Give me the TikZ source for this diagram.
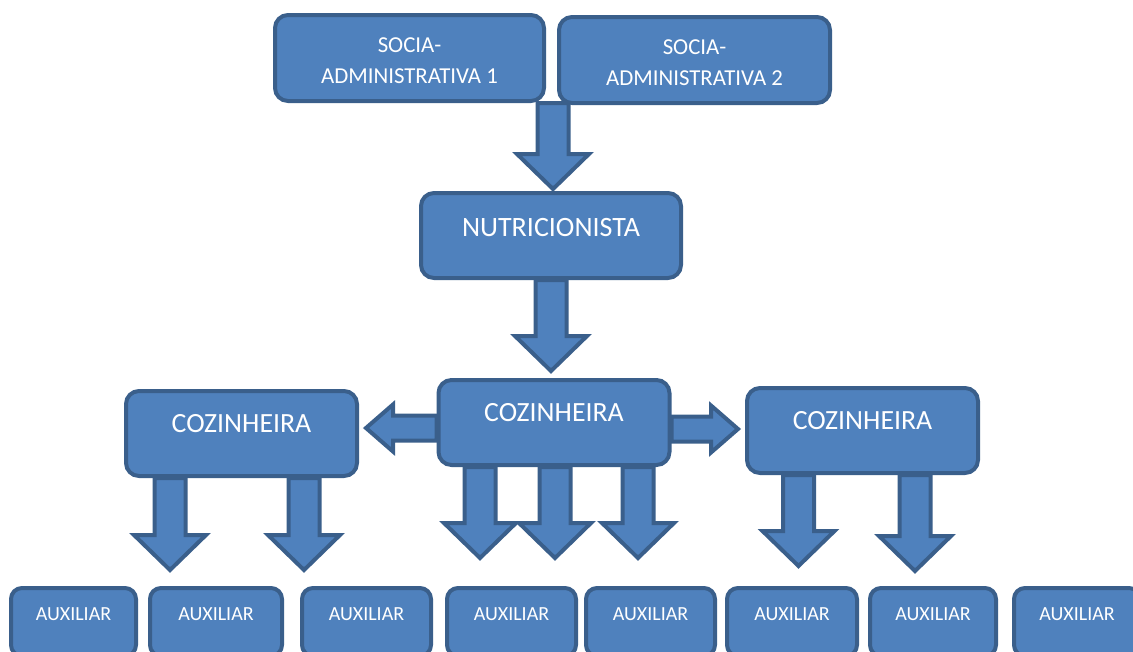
\documentclass[tikz,border=0pt]{standalone}
\usepackage{fontspec}
\setmainfont{Carlito}
\usetikzlibrary{backgrounds}

\definecolor{boxfill}{HTML}{4F81BD}
\definecolor{boxline}{HTML}{3A5F8B}

% block arrow pointing down, from #1 to the height of #2
\newcommand{\blkdown}[2]{%
  \coordinate (bs) at (#1);
  \coordinate (bt) at (bs |- #2);
  \draw[blk] ([shift={(-15.5,0)}]bs) -- ([shift={(-15.5,-35)}]bt) -- ([shift={(-36,-35)}]bt)
    -- (bt) -- ([shift={(36,-35)}]bt) -- ([shift={(15.5,-35)}]bt) -- ([shift={(15.5,0)}]bs) -- cycle;}
% block arrow to the side, from #1 to #2 (#3 = 1 points left, -1 points right)
\newcommand{\blkside}[3]{%
  \coordinate (bs) at (#1);
  \coordinate (bt) at (#2 |- bs);
  \draw[blk] ([shift={(0,-12.5)}]bs) -- ([shift={(#3*27,-12.5)}]bt) -- ([shift={(#3*27,-23.5)}]bt)
    -- (bt) -- ([shift={(#3*27,23.5)}]bt) -- ([shift={(#3*27,12.5)}]bt) -- ([shift={(0,12.5)}]bs) -- cycle;}

\begin{document}
\begin{tikzpicture}[x=1pt,y=-1pt,
    box/.style={draw=boxline,line width=4pt,fill=boxfill,rounded corners=13pt,text=white,inner sep=0pt},
    blk/.style={draw=boxline,line width=4pt,fill=boxfill},
    socbox/.style={box,align=center,minimum height=86pt,font=\fontsize{22.8}{31}\selectfont},
    nutribox/.style={box,minimum width=260pt,text height=43pt,text depth=42pt,font=\fontsize{28}{32}\selectfont},
    cozbox/.style={box,minimum width=231pt,text height=41pt,text depth=44pt,font=\fontsize{27.8}{32}\selectfont},
    auxbox/.style={box,rounded corners=11pt,text height=32.4pt,text depth=35.6pt,font=\fontsize{20}{24}\selectfont}]
    \useasboundingbox (0,0) rectangle (1133,651);
    \clip (0,0) rectangle (1133,651);

    \node[socbox,minimum width=269pt] (soc1) at (409.5,58) {\rule{0pt}{21pt}SOCIA-\\ADMINISTRATIVA 1};
    \node[socbox,minimum width=271pt] (soc2) at (694.5,60) {\rule{0pt}{21pt}SOCIA-\\ADMINISTRATIVA 2};
    \node[nutribox] (nutri) at (551,235.5) {NUTRICIONISTA};
    \node[cozbox] (cozc) at (554,422.5) {COZINHEIRA};
    \node[cozbox] (cozl) at (241.5,433.5) {COZINHEIRA};
    \node[cozbox] (cozr) at (862.5,430.5) {COZINHEIRA};
    \foreach \x/\w [count=\i] in {73.5/125,216/132,366.5/129,511.5/129,650.5/129,792/130,933/126,1077/126}
        \node[auxbox,minimum width=\w pt] (aux\i) at (\x,622) {AUXILIAR};

    \begin{scope}[on background layer]
        \coordinate (tipn) at ([shift={(2,-2)}]nutri.north);
        \coordinate (tipc) at ([shift={(0,-7)}]cozc.north);
        \coordinate (tl) at ([shift={(0,-16)}]aux1.north);
        \coordinate (tc) at ([shift={(0,-28)}]aux1.north);
        \coordinate (tw) at ([shift={(7,0)}]cozl.east);
        \coordinate (te) at ([shift={(-7,0)}]cozr.west);
        \blkdown{tipn |- soc1.south}{tipn}
        \blkdown{nutri.south}{tipc}
        \blkside{[shift={(0,5.5)}]cozc.west}{tw}{1}
        \blkside{[shift={(0,6.5)}]cozc.east}{te}{-1}
        \foreach \dx in {-71.5,62.5} {\blkdown{[shift={(\dx,0)}]cozl.south}{tl}}
        \foreach \dx in {-74,1,84} {\blkdown{[shift={(\dx,0)}]cozc.south}{tc}}
        \foreach \dx/\ty in {-64/-20,52.5/-15} {
            \coordinate (tr) at ([shift={(0,\ty)}]aux1.north);
            \blkdown{[shift={(\dx,0)}]cozr.south}{tr}}
    \end{scope}
\end{tikzpicture}
\end{document}
